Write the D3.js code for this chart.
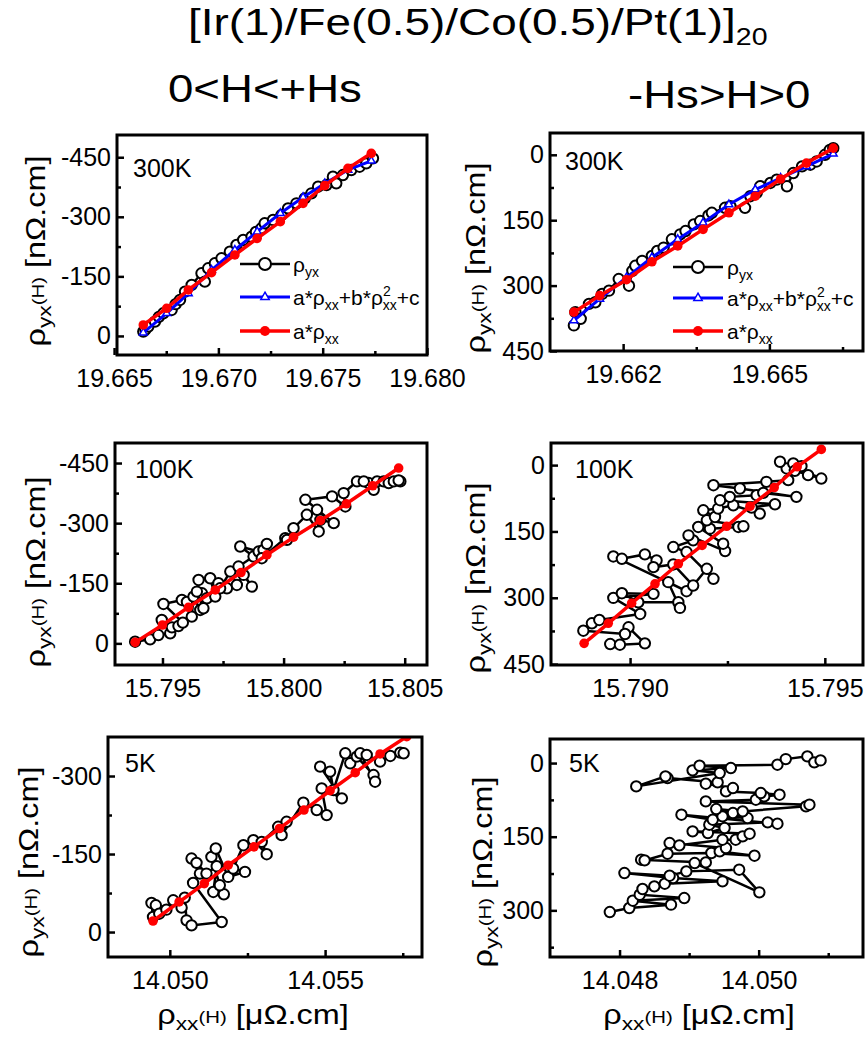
<!DOCTYPE html>
<html>
<head>
<meta charset="utf-8">
<script src="https://cdn.jsdelivr.net/npm/d3@7"></script>
<style>
body { margin: 0; background: #fff; }
svg text { font-family: Arial, "Liberation Sans", sans-serif; fill: #000; }
</style>
</head>
<body>
<div id="chart"></div>
<script>
// ---- data: [rho_xx (uOhm.cm), rho_yx (nOhm.cm)] ----
var data300L = [[19.66640,-10.9],[19.66650,-16],[19.66664,-23.5],[19.66696,-36.1],[19.66715,-48],[19.66736,-57.1],
  [19.66776,-65.4],[19.66795,-80],[19.66816,-90.6],[19.66840,-111.6],[19.66872,-128.4],[19.66919,-157.7],[19.66935,-136.7],
  [19.66951,-170.3],[19.66983,-182.9],[19.67015,-195.5],[19.67055,-212.3],[19.67087,-229.0],[19.67119,-241.6],
  [19.67159,-250.0],[19.67180,-262],[19.67206,-271.0],[19.67222,-283.6],[19.67262,-292.0],[19.67302,-304.5],[19.67334,-321.3],
  [19.67374,-333.9],[19.67414,-346.5],[19.67446,-359.1],[19.67478,-375.8],[19.67518,-380.0],[19.67549,-401.0],
  [19.67565,-384.2],[19.67597,-405.2],[19.67637,-417.8],[19.67677,-426.2],[19.67709,-434.6],[19.67741,-447.2]];
var quad300L = [[19.66640,-8.3],[19.66752,-57],[19.66856,-107],[19.66967,-166],[19.67079,-216.4],[19.67186,-262.6],
  [19.67297,-308.8],[19.67406,-349],[19.67510,-384],[19.67621,-418],[19.67733,-441]];
var lin300L = [[19.66640,-27.7],[19.66752,-69.6],[19.66856,-115.8],[19.66967,-159.4],[19.67079,-203.9],[19.67186,-245.8],
  [19.67297,-287.8],[19.67406,-333.9],[19.67510,-378.4],[19.67621,-422],[19.67733,-459.8]];

var data300R = [[19.66099,391.3],[19.66102,361.0],[19.66113,376.1],[19.66130,342.0],[19.66143,338.2],[19.66157,319.1],
  [19.66171,311.6],[19.66191,285.0],[19.66212,300.2],[19.66219,266.0],[19.66225,254.6],[19.66239,243.2],[19.66259,231.8],
  [19.66270,220.4],[19.66283,212.8],[19.66300,193.8],[19.66317,182.4],[19.66328,174.8],[19.66345,159.6],[19.66358,152.0],
  [19.66375,139.1],[19.66382,133.0],[19.66409,121.6],[19.66420,117.8],[19.66450,121.6],[19.66461,95.0],[19.66474,87.4],
  [19.66481,72.2],[19.66502,64.6],[19.66515,57.0],[19.66536,72.2],[19.66549,41.8],[19.66567,26.6],[19.66584,22.8],
  [19.66597,15.2],[19.66614,0.0],[19.66624,-11.4],[19.66631,-15.2]];
var quad300R = [[19.66099,380],[19.66152,330.5],[19.66207,281.2],[19.66259,235.6],[19.66312,193.8],[19.66364,155.8],
  [19.66417,114],[19.66471,79.8],[19.66523,53.2],[19.66576,26.6],[19.66631,-2.3]];
var lin300R = [[19.66099,360.9],[19.66152,323.0],[19.66207,286.5],[19.66259,245.4],[19.66312,209.0],[19.66364,171.0],
  [19.66417,133.0],[19.66471,95.0],[19.66523,55.5],[19.66576,19.0],[19.66631,-15.2]];

var data100L = [[15.79387,-4.2],[15.79449,-10],[15.79483,-20.8],[15.79532,-25],[15.79497,-58.3],[15.79539,-40],[15.79566,-43.3],
  [15.79584,-51.7],[15.79504,-98.3],[15.79580,-108.3],[15.79601,-103.3],[15.79621,-66.7],[15.79628,-116.7],[15.79656,-83.3],
  [15.79663,-125],[15.79683,-112.5],[15.79669,-87.5],[15.79642,-129.2],[15.79649,-158.3],[15.79697,-162.5],[15.79718,-116.7],
  [15.79731,-150],[15.79766,-137.5],[15.79738,-137.5],[15.79780,-179.2],[15.79807,-145.8],[15.79835,-170.8],[15.79869,-141.7],
  [15.79814,-191.7],[15.79876,-216.7],[15.79821,-241.7],[15.79897,-229.2],[15.79917,-233.3],[15.79931,-248.3],[15.79910,-212.5],
  [15.80007,-262.5],[15.80014,-258.3],[15.80041,-287.5],[15.80096,-320.8],[15.80145,-279.2],[15.80138,-333.3],[15.80152,-308.3],
  [15.80207,-300],[15.80090,-358.3],[15.80200,-366.7],[15.80255,-341.7],[15.80248,-375],[15.80303,-404.2],[15.80351,-400],
  [15.80331,-404.2],[15.80372,-383.3],[15.80386,-404.2],[15.80413,-404.2],[15.80434,-400],[15.80455,-404.2],[15.80482,-404.2],
  [15.80475,-406.7]];
var lin100L = [[15.79387,-2.5],[15.79500,-45.8],[15.79607,-90],[15.79718,-133.3],[15.79824,-176.7],[15.79931,-220.8],
  [15.80041,-265],[15.80152,-306.7],[15.80259,-348.3],[15.80368,-393.3],[15.80475,-437.5]];

var data100R = [[15.78949,404.6],[15.78974,406.1],[15.79038,403.1],[15.78996,366.8],[15.78987,381.9],[15.78880,374.4],
  [15.78902,357.7],[15.78921,350.2],[15.79026,336.6],[15.78957,300.3],[15.79060,291.2],[15.78979,289.7],[15.79021,310.1],
  [15.79124,310.1],[15.79128,322.9],[15.79098,264.7],[15.79145,285.1],[15.78957,206.5],[15.78979,211.8],[15.79038,201.9],
  [15.79068,215.5],[15.79060,230.7],[15.79111,224.6],[15.79162,272.3],[15.79197,234.5],[15.79214,257.1],[15.79145,196.6],
  [15.79111,185.3],[15.79162,170.2],[15.79150,158.8],[15.79244,194.4],[15.79239,177.7],[15.79175,139.9],[15.79205,143.7],
  [15.79278,139.9],[15.79291,138.4],[15.79197,124.8],[15.79218,117.2],[15.79188,102.1],[15.79226,98.3],[15.79265,90.8],
  [15.79333,109.7],[15.79312,96],[15.79372,88.5],[15.79231,79.4],[15.79256,71.8],[15.79325,68.1],[15.79342,62.8],
  [15.79427,71.8],[15.79282,52.9],[15.79214,45.4],[15.79350,37.8],[15.79406,34],[15.79402,7.6],[15.79419,-3.8],
  [15.79440,2.3],[15.79457,22.7],[15.79385,-7.6],[15.79491,30.3],[15.79423,12.9]];
var lin100R = [[15.78882,403.1],[15.78944,357.7],[15.79004,312.3],[15.79064,268.5],[15.79124,223.1],[15.79185,181.5],
  [15.79248,138.4],[15.79308,93],[15.79370,50.7],[15.79429,3.8],[15.79491,-35.5]];

var data5L = [[14.04946,-28.9],[14.04941,-55.9],[14.04955,-51.4],[14.04966,-35.3],[14.04989,-43],[14.05011,-61],
  [14.05038,-46.9],[14.05048,-66.2],[14.05054,-22.5],[14.05070,-12.8],[14.05167,-19.3],[14.05075,-94.4],[14.05097,-112.4],
  [14.05070,-141.3],[14.05086,-133],[14.05118,-112.4],[14.05151,-126.6],[14.05140,-77.1],[14.05174,-72.6],[14.05161,-89.9],
  [14.05134,-144.5],[14.05148,-160.6],[14.05188,-106],[14.05242,-115.6],[14.05204,-122.1],[14.05237,-167],[14.05269,-176.7],
  [14.05312,-149.7],[14.05296,-173.4],[14.05349,-202.4],[14.05376,-212],[14.05360,-186.3],[14.05430,-248.6],[14.05473,-234.5],
  [14.05505,-224.8],[14.05489,-276.2],[14.05554,-257],[14.05484,-318],[14.05516,-308.4],[14.05527,-273],[14.05565,-343.7],
  [14.05581,-324.4],[14.05602,-337.3],[14.05656,-301.9],[14.05661,-289.1],[14.05613,-343.7],[14.05634,-340.5],
  [14.05677,-327.6],[14.05710,-338.5],[14.05742,-345],[14.05753,-343.7]];
var lin5L = [[14.04946,-21.2],[14.05030,-57.8],[14.05111,-93.1],[14.05188,-128.5],[14.05271,-163.8],[14.05353,-199.1],
  [14.05432,-234.5],[14.05516,-271.7],[14.05597,-306.4],[14.05677,-342.4],[14.05763,-375.8]];

var data5R = [[14.04786,303.4],[14.04814,295.2],[14.04874,288.4],[14.04819,280.3],[14.04893,274.9],[14.04829,268.1],
  [14.04833,256.5],[14.04850,251.1],[14.04865,245.7],[14.04948,240.9],[14.04877,234.2],[14.04807,224],[14.04872,229.4],
  [14.04896,220.6],[14.04972,217.2],[14.05001,263.3],[14.04908,203.6],[14.04924,202.3],[14.04831,196.8],[14.04836,198.2],
  [14.04869,184.6],[14.04932,183.2],[14.04994,188.7],[14.04944,179.9],[14.04953,173.1],[14.04872,162.9],[14.04886,167.6],
  [14.04948,156.1],[14.04967,156.1],[14.04977,149.3],[14.04987,143.9],[14.04905,139.1],[14.04927,142.5],[14.04951,132.3],
  [14.04929,125.6],[14.05013,120.8],[14.05027,123.5],[14.04889,105.2],[14.04934,115.4],[14.04948,108.6],[14.04984,112],
  [14.04963,101.8],[14.04939,93.7],[14.04977,98.4],[14.05068,88.2],[14.05073,84.8],[14.04924,78.1],[14.04996,74.7],
  [14.05008,67.9],[14.05030,64.5],[14.05003,61.1],[14.04953,57.7],[14.04963,50.9],[14.04924,42.1],[14.04941,39.4],
  [14.04869,30.5],[14.04866,27.1],[14.04824,47.5],[14.04944,20.4],[14.04905,14.9],[14.04960,10.2],[14.04915,5.4],
  [14.05027,3.4],[14.05039,-8.1],[14.05070,-13.6],[14.05080,-1.4],[14.05089,-5.4]];

// ---- tick values ----
var xMajor300L = [19.665, 19.670, 19.675, 19.680], xMinor300L = [19.6675, 19.6725, 19.6775];
var xMajor300R = [19.662, 19.665], xMinor300R = [19.6635, 19.6665];
var xMajor100L = [15.795, 15.800, 15.805], xMinor100L = [15.7975, 15.8025];
var xMajor100R = [15.790, 15.795], xMinor100R = [15.7925];
var xMajor5L = [14.050, 14.055], xMinor5L = [14.0525, 14.0575];
var xMajor5R = [14.048, 14.050], xMinor5R = [14.049, 14.051];
var yMajorNeg = [-450, -300, -150, 0], yMinorNeg = [-375, -225, -75];
var yMajorPos = [0, 150, 300, 450], yMinorPos = [75, 225, 375];
var yMajor5L = [-300, -150, 0], yMinor5L = [-225, -75];
var yMajor5R = [0, 150, 300], yMinor5R = [75, 225, 375];

var svgWidth = 867;
var svgHeight = 1041;

var svg = d3.select("#chart")
  .append("svg")
    .attr("width", svgWidth)
    .attr("height", svgHeight);

var panels = [
  {id: 1, left: 117, top: 135, width: 310, height: 220, xDomain: [19.66514, 19.680], yDomain: [-506, 48],
   xMajor: xMajor300L, xMinor: xMinor300L, yMajor: yMajorNeg, yMinor: yMinorNeg,
   label: "300K", labelX: 16, labelY: 42, data: data300L, quad: quad300L, lin: lin300L,
   legend: {x1: 240, x2: 290, tx: 293, rows: [264, 297, 331]}, yTitle: [45, 251]},
  {id: 2, left: 550, top: 133, width: 313, height: 218, xDomain: [19.6605, 19.66692], yDomain: [-50, 450],
   xMajor: xMajor300R, xMinor: xMinor300R, yMajor: yMajorPos, yMinor: yMinorPos,
   label: "300K", labelX: 15, labelY: 37, data: data300R, quad: quad300R, lin: lin300R,
   legend: {x1: 673, x2: 723, tx: 727, rows: [267, 298, 331]}, yTitle: [485, 258]},
  {id: 3, left: 115, top: 443, width: 312, height: 222, xDomain: [15.79304, 15.80592], yDomain: [-500, 54],
   xMajor: xMajor100L, xMinor: xMinor100L, yMajor: yMajorNeg, yMinor: yMinorNeg,
   label: "100K", labelX: 20, labelY: 35, data: data100L, lin: lin100L, yTitle: [45, 572]},
  {id: 4, left: 551, top: 443, width: 312, height: 222, xDomain: [15.78797, 15.79598], yDomain: [-50, 452],
   xMajor: xMajor100R, xMinor: xMinor100R, yMajor: yMajorPos, yMinor: yMinorPos,
   label: "100K", labelX: 24, labelY: 35, data: data100R, lin: lin100R, yTitle: [485, 578]},
  {id: 5, left: 108, top: 737, width: 314, height: 220, xDomain: [14.04801, 14.05812], yDomain: [-375, 48],
   xMajor: xMajor5L, xMinor: xMinor5L, yMajor: yMajor5L, yMinor: yMinor5L,
   label: "5K", labelX: 17, labelY: 35, data: data5L, lin: lin5L, yTitle: [38, 862], xTitle: [253, 1024]},
  {id: 6, left: 550, top: 739, width: 313, height: 218, xDomain: [14.04700, 14.0515], yDomain: [-49, 395],
   xMajor: xMajor5R, xMinor: xMinor5R, yMajor: yMajor5R, yMinor: yMinor5R,
   label: "5K", labelX: 19, labelY: 33, data: data5R, yTitle: [492, 872], xTitle: [699, 1024]}
];

function drawPanel(p) {
  var chart = svg.append("g")
    .attr("transform", `translate(${p.left}, ${p.top})`);

  var x = d3.scaleLinear().domain(p.xDomain).range([0, p.width]);
  // y axes are reversed in the figure (values grow downward)
  var y = d3.scaleLinear().domain(p.yDomain).range([0, p.height]);

  chart.append("clipPath").attr("id", "clip" + p.id)
    .append("rect").attr("width", p.width).attr("height", p.height);

  // minor ticks
  chart.append("g")
    .attr("transform", `translate(0, ${p.height})`)
    .call(d3.axisBottom(x).tickValues(p.xMinor).tickSize(-4).tickFormat(""))
    .call(g => g.select(".domain").remove());
  chart.append("g")
    .call(d3.axisLeft(y).tickValues(p.yMinor).tickSize(-4).tickFormat(""))
    .call(g => g.select(".domain").remove());

  // major ticks + labels
  chart.append("g")
    .attr("transform", `translate(0, ${p.height})`)
    .call(d3.axisBottom(x).tickValues(p.xMajor).tickSize(-7).tickPadding(14).tickFormat(d => d.toFixed(3)))
    .call(g => g.select(".domain").remove());
  chart.append("g")
    .call(d3.axisLeft(y).tickValues(p.yMajor).tickSize(-7).tickPadding(6).tickFormat(d => String(d)))
    .call(g => g.select(".domain").remove());

  chart.selectAll(".tick line").attr("stroke", "#000").attr("stroke-width", 2.5);
  chart.selectAll(".tick text").attr("font-size", 25).attr("font-family", "Arial, 'Liberation Sans', sans-serif");

  var plot = chart.append("g").attr("clip-path", `url(#clip${p.id})`);
  var line = d3.line().x(d => x(d[0])).y(d => y(d[1]));

  plot.append("path").datum(p.data)
    .attr("d", line).attr("fill", "none").attr("stroke", "#000").attr("stroke-width", 2.5);
  plot.selectAll(".dataCircle").data(p.data).enter()
    .append("circle")
    .attr("cx", d => x(d[0])).attr("cy", d => y(d[1])).attr("r", 5.2)
    .attr("fill", "#fff").attr("stroke", "#000").attr("stroke-width", 2);

  if (p.quad) {
    plot.append("path").datum(p.quad)
      .attr("d", line).attr("fill", "none").attr("stroke", "#0000ff").attr("stroke-width", 3);
    plot.selectAll(".quadMark").data(p.quad).enter()
      .append("path")
      .attr("d", d3.symbol(d3.symbolTriangle, 26))
      .attr("transform", d => `translate(${x(d[0])}, ${y(d[1])})`)
      .attr("fill", "#fff").attr("stroke", "#0000ff").attr("stroke-width", 1.5);
  }
  if (p.lin) {
    plot.append("path").datum(p.lin)
      .attr("d", line).attr("fill", "none").attr("stroke", "#ff0000").attr("stroke-width", 3.5);
    plot.selectAll(".linMark").data(p.lin).enter()
      .append("circle")
      .attr("cx", d => x(d[0])).attr("cy", d => y(d[1])).attr("r", 4.8)
      .attr("fill", "#ff0000");
  }

  chart.append("rect")
    .attr("width", p.width).attr("height", p.height)
    .attr("fill", "none").attr("stroke", "#000").attr("stroke-width", 3);

  chart.append("text")
    .attr("x", p.labelX).attr("y", p.labelY)
    .attr("font-size", 25)
    .text(p.label);

  // y title
  var yt = svg.append("text")
    .attr("text-anchor", "middle")
    .attr("transform", `translate(${p.yTitle[0]}, ${p.yTitle[1]}) rotate(-90) scale(1.2, 1)`);
  yt.append("tspan").attr("font-size", 27).text("ρ");
  yt.append("tspan").attr("font-size", 19).attr("dy", 6).text("yx");
  yt.append("tspan").attr("font-size", 17).attr("dy", -7).text("(H)");
  yt.append("tspan").attr("font-size", 27).attr("dy", 1).text("\u00a0[nΩ.cm]");

  if (p.xTitle) {
    var xt = svg.append("text")
      .attr("text-anchor", "middle")
      .attr("transform", `translate(${p.xTitle[0]}, ${p.xTitle[1]}) scale(1.2, 1)`);
    xt.append("tspan").attr("font-size", 27).text("ρ");
    xt.append("tspan").attr("font-size", 19).attr("dy", 6).text("xx");
    xt.append("tspan").attr("font-size", 17).attr("dy", -7).text("(H)");
    xt.append("tspan").attr("font-size", 27).attr("dy", 1).text("\u00a0[μΩ.cm]");
  }

  if (p.legend) drawLegend(p.legend);
}

function drawLegend(lg) {
  var mid = (lg.x1 + lg.x2) / 2;
  var r = lg.rows;
  // rho_yx
  svg.append("line").attr("x1", lg.x1).attr("x2", lg.x2).attr("y1", r[0]).attr("y2", r[0])
    .attr("stroke", "#000").attr("stroke-width", 2.5);
  svg.append("circle").attr("cx", mid).attr("cy", r[0]).attr("r", 6)
    .attr("fill", "#fff").attr("stroke", "#000").attr("stroke-width", 2);
  var t1 = svg.append("text").attr("x", lg.tx).attr("y", r[0] + 8).attr("font-size", 21);
  t1.append("tspan").text("ρ");
  t1.append("tspan").attr("font-size", 14).attr("dy", 5).text("yx");

  // quadratic fit
  svg.append("line").attr("x1", lg.x1).attr("x2", lg.x2).attr("y1", r[1]).attr("y2", r[1])
    .attr("stroke", "#0000ff").attr("stroke-width", 3);
  svg.append("path").attr("d", d3.symbol(d3.symbolTriangle, 30))
    .attr("transform", `translate(${mid}, ${r[1]})`)
    .attr("fill", "#fff").attr("stroke", "#0000ff").attr("stroke-width", 1.5);
  var t2 = svg.append("text").attr("x", lg.tx).attr("y", r[1] + 8).attr("font-size", 21);
  t2.append("tspan").text("a*ρ");
  t2.append("tspan").attr("font-size", 14).attr("dy", 5).text("xx");
  t2.append("tspan").attr("dy", -5).text("+b*ρ");
  t2.append("tspan").attr("font-size", 14).attr("dy", -9).text("2");
  t2.append("tspan").attr("font-size", 14).attr("dx", -7.8).attr("dy", 14).text("xx");
  t2.append("tspan").attr("dy", -5).text("+c");

  // linear fit
  svg.append("line").attr("x1", lg.x1).attr("x2", lg.x2).attr("y1", r[2]).attr("y2", r[2])
    .attr("stroke", "#ff0000").attr("stroke-width", 3.5);
  svg.append("circle").attr("cx", mid).attr("cy", r[2]).attr("r", 5).attr("fill", "#ff0000");
  var t3 = svg.append("text").attr("x", lg.tx).attr("y", r[2] + 8).attr("font-size", 21);
  t3.append("tspan").text("a*ρ");
  t3.append("tspan").attr("font-size", 14).attr("dy", 5).text("xx");
}

panels.forEach(drawPanel);

// title and headers
var title = svg.append("text")
  .attr("transform", "translate(188, 35) scale(1.24, 1)")
  .attr("font-size", 37);
title.append("tspan").text("[Ir(1)/Fe(0.5)/Co(0.5)/Pt(1)]");
title.append("tspan").attr("font-size", 23).attr("dy", 10).text("20");

svg.append("text")
  .attr("transform", "translate(168, 102) scale(1.2, 1)")
  .attr("font-size", 38)
  .text("0<H<+Hs");
svg.append("text")
  .attr("transform", "translate(628, 108) scale(1.2, 1)")
  .attr("font-size", 38)
  .text("-Hs>H>0");
</script>
</body>
</html>
